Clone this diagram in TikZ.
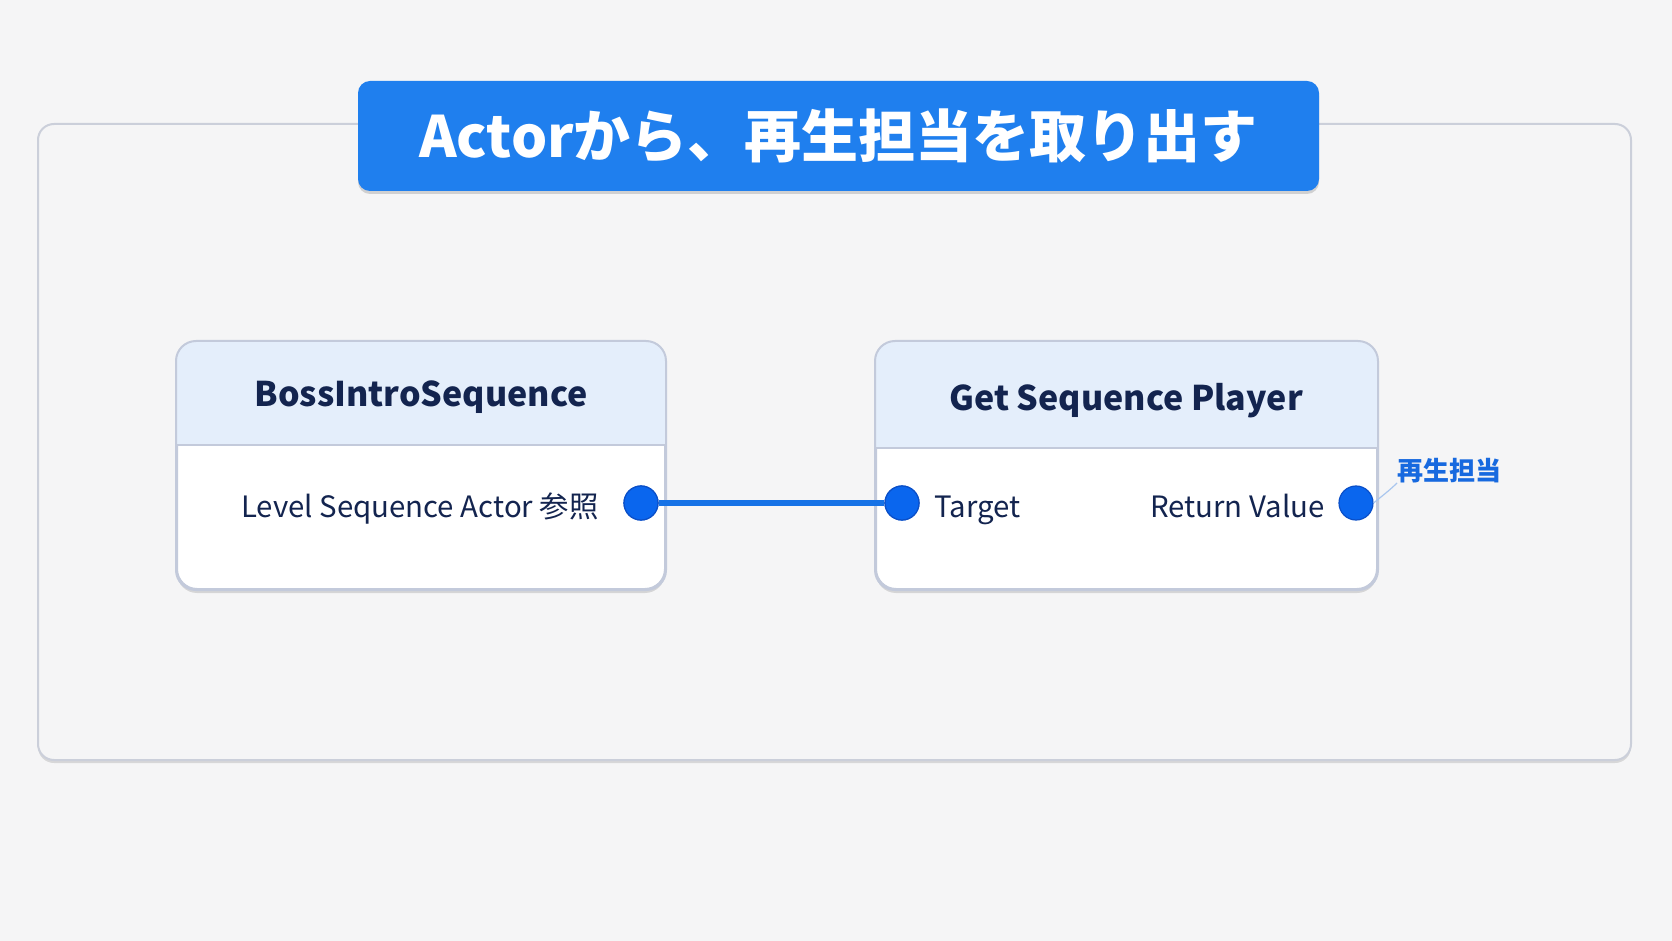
\documentclass[tikz,border=0pt]{standalone}
\usepackage{fontspec}
\setmainfont{Noto Sans CJK JP}
\usetikzlibrary{shadows}
\definecolor{bg}{HTML}{F5F5F6}
\definecolor{panelline}{HTML}{CBCFDA}
\definecolor{titleblue}{HTML}{1F7FEE}
\definecolor{hdr}{HTML}{E4EEFB}
\definecolor{nodeline}{HTML}{C3CADB}
\definecolor{navy}{HTML}{13244F}
\definecolor{pinblue}{HTML}{0A66EE}
\definecolor{pinedge}{HTML}{0A4FC8}
\definecolor{wireblue}{HTML}{1672E6}
\definecolor{labblue}{HTML}{1769DF}
\definecolor{leader}{HTML}{A9C6EE}
\tikzset{
  panelbox/.style={draw=panelline, line width=1pt, fill=bg, rounded corners=8pt,
    drop shadow={shadow xshift=0pt, shadow yshift=-1.5pt, opacity=0.12, fill=black}},
  titlebox/.style={fill=titleblue, rounded corners=6pt, text=white, font=\fontsize{28.5}{34}\selectfont\bfseries,
    minimum width=480.5pt, minimum height=55pt, inner sep=0pt,
    drop shadow={shadow xshift=0pt, shadow yshift=-1.5pt, opacity=0.15, fill=black}},
  nodebox/.style={draw=nodeline, line width=1pt, fill=white, rounded corners=10pt, inner sep=0pt,
    drop shadow={shadow xshift=0pt, shadow yshift=-2pt, opacity=0.13, fill=black}},
  nodeedge/.style={draw=nodeline, line width=1pt, rounded corners=10pt},
  hdrtext/.style={text=navy, font=\fontsize{17}{20}\selectfont\bfseries, inner sep=0pt},
  pintext/.style={text=navy, font=\fontsize{14.7}{18}\selectfont, inner sep=0pt},
  pinball/.style={circle, fill=pinblue, draw=pinedge, line width=0.6pt, minimum size=17pt, inner sep=0pt},
  wire/.style={draw=wireblue, line width=2.6pt},
  labtext/.style={text=labblue, font=\fontsize{13}{16}\selectfont\bfseries, inner sep=0pt},
  leaderline/.style={draw=leader, line width=0.6pt},
}
\begin{document}
\begin{tikzpicture}[x=0.5pt,y=-0.5pt]
\useasboundingbox[fill=bg] (0,0) rectangle (1672,941);
% outer panel
\draw[panelbox] (38,124) rectangle (1631,760);
% title
\node[titlebox] (title) at (838.5,136) {Actorから、再生担当を取り出す};
% left node
\node[nodebox, minimum width=244pt, minimum height=123.5pt] (L) at (421,465.5) {};
\begin{scope}
  \clip[rounded corners=10pt] (L.north west) rectangle (L.south east);
  \fill[hdr] (177,342) rectangle (665,445);
\end{scope}
\draw[draw=nodeline, line width=0.8pt] (177,445) -- (665,445);
\draw[nodeedge] (L.north west) rectangle (L.south east);
\node[hdrtext] (Lh) at (421,397) {BossIntroSequence};
\node[pintext, anchor=base east] (Lt) at (599,517) {Level Sequence Actor 参照};
% right node
\node[nodebox, minimum width=250.5pt, minimum height=123.5pt] (R) at (1126.5,465.5) {};
\begin{scope}
  \clip[rounded corners=10pt] (R.north west) rectangle (R.south east);
  \fill[hdr] (876,342) rectangle (1377,448);
\end{scope}
\draw[draw=nodeline, line width=0.8pt] (876,448) -- (1377,448);
\draw[nodeedge] (R.north west) rectangle (R.south east);
\node[hdrtext] (Rh) at (1126,401) {Get Sequence Player};
\node[pintext, anchor=base west] (Rt1) at (934,517) {Target};
\node[pintext, anchor=base east] (Rt2) at (1325,517) {Return Value};
% wire and pins
\node[pinball] (p1) at (641,503) {};
\node[pinball] (p2) at (902,503) {};
\node[pinball] (p3) at (1356,503) {};
\draw[wire] (p1.east) -- (p2.west);
\node[pinball] at (p1) {};
\node[pinball] at (p2) {};
% label
\node[labtext] (lab) at (1449,471) {再生担当};
\coordinate (labfoot) at (1397,483);
\draw[leaderline] (p3.east) .. controls (1382,496) and (1390,490) .. (labfoot);
\end{tikzpicture}
\end{document}
